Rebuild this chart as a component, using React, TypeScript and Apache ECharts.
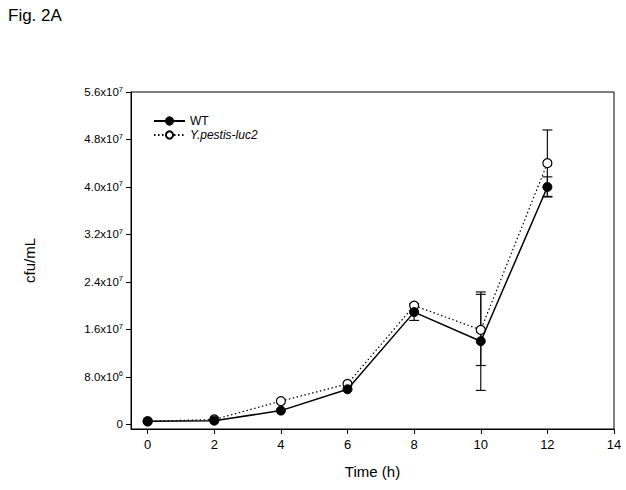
import React, { useEffect, useRef } from "react";
import * as echarts from "echarts";

const timesH = [0, 2, 4, 6, 8, 10, 12];
const wtValues = [5.0e5, 6.0e5, 2.3e6, 5.9e6, 1.89e7, 1.4e7, 4.0e7];
const wtErrors = [0, 0, 0, 0, 1.4e6, 8.3e6, 1.7e6];
const lucValues = [5.0e5, 8.0e5, 3.9e6, 6.8e6, 2.0e7, 1.59e7, 4.4e7];
const lucErrors = [0, 0, 0, 0, 0, 6.0e6, 5.6e6];
const xTicks = [0, 2, 4, 6, 8, 10, 12, 14];
const yTicks = [0, 8e6, 1.6e7, 2.4e7, 3.2e7, 4.0e7, 4.8e7, 5.6e7];

const FONT = "'Liberation Sans', Arial, Helvetica, sans-serif";

function fmtSci(v: number): string {
  if (v === 0) return "{m|0}";
  const e = Math.floor(Math.log10(v) + 1e-9);
  const m = v / Math.pow(10, e);
  return `{m|${m.toFixed(1)}x10}{e|${e}}`;
}

function errData(vals: number[], errs: number[]) {
  const out: number[][] = [];
  timesH.forEach((t, i) => {
    if (errs[i] > 0) out.push([t, vals[i] - errs[i], vals[i] + errs[i]]);
  });
  return out;
}

function errSeries(name: string, data: number[][], z: number) {
  return {
    type: "custom",
    name,
    z,
    silent: true,
    renderItem: (params: any, api: any) => {
      const x = api.value(0);
      const lo = api.coord([x, api.value(1)]);
      const hi = api.coord([x, api.value(2)]);
      const w = 5;
      const st = { stroke: "#111", lineWidth: 1.2 };
      return {
        type: "group",
        children: [
          { type: "line", shape: { x1: lo[0], y1: lo[1], x2: hi[0], y2: hi[1] }, style: st },
          { type: "line", shape: { x1: lo[0] - w, y1: lo[1], x2: lo[0] + w, y2: lo[1] }, style: st },
          { type: "line", shape: { x1: hi[0] - w, y1: hi[1], x2: hi[0] + w, y2: hi[1] }, style: st },
        ],
      };
    },
    data,
  };
}

export default function App() {
  const ref = useRef<HTMLDivElement>(null);
  useEffect(() => {
    const chart = echarts.init(ref.current!, null, { renderer: "svg" });
    chart.setOption({
      animation: false,
      backgroundColor: "#fff",
      textStyle: { fontFamily: FONT },
      title: {
        text: "Fig. 2A",
        left: 3,
        top: 2,
        textStyle: { fontFamily: FONT, fontSize: 17, fontWeight: "normal", color: "#000" },
      },
      grid: {
        left: 131,
        right: 12,
        top: 92,
        bottom: 61,
        show: true,
        borderColor: "#000",
        borderWidth: 1,
        backgroundColor: "transparent",
      },
      legend: {
        orient: "vertical",
        left: 148,
        top: 110,
        itemWidth: 31,
        itemHeight: 9,
        itemGap: 2,
        textStyle: { fontFamily: FONT, fontSize: 12, color: "#000" },
        data: [
          { name: "WT" },
          { name: "Y.pestis-luc2", textStyle: { fontStyle: "italic" } },
        ],
      },
      xAxis: {
        type: "value",
        min: -0.5,
        max: 14,
        name: "Time (h)",
        nameLocation: "middle",
        nameGap: 35,
        nameTextStyle: { fontFamily: FONT, fontSize: 15, color: "#000" },
        axisLine: { show: true, onZero: false, lineStyle: { color: "#000", width: 1 } },
        axisTick: { show: true, length: 5, customValues: xTicks, lineStyle: { color: "#000" } },
        axisLabel: { customValues: xTicks, margin: 9, fontFamily: FONT, fontSize: 13, color: "#000" },
        splitLine: { show: false },
      },
      yAxis: {
        type: "value",
        min: -8e5,
        max: 5.6e7,
        name: "cfu/mL",
        nameLocation: "middle",
        nameGap: 94,
        nameRotate: 90,
        nameTextStyle: { fontFamily: FONT, fontSize: 15, color: "#000" },
        axisLine: { show: true, onZero: false, lineStyle: { color: "#000", width: 1 } },
        axisTick: { show: true, length: 5, customValues: yTicks, lineStyle: { color: "#000" } },
        axisLabel: {
          customValues: yTicks,
          margin: 8,
          formatter: (v: number) => fmtSci(v),
          rich: {
            m: { fontFamily: FONT, fontSize: 11.5, color: "#000" },
            e: { fontFamily: FONT, fontSize: 7.5, color: "#000", padding: [0, 0, 6, 0] },
          },
        },
        splitLine: { show: false },
      },
      series: [
        errSeries("errLuc", errData(lucValues, lucErrors), 1),
        errSeries("errWT", errData(wtValues, wtErrors), 1),
        {
          type: "line",
          name: "Y.pestis-luc2",
          z: 3,
          data: timesH.map((t, i) => [t, lucValues[i]]),
          symbol: "circle",
          symbolSize: 9,
          showSymbol: true,
          lineStyle: { color: "#000", width: 1.2, type: [1.5, 2.5] },
          itemStyle: { color: "#fff", borderColor: "#000", borderWidth: 1.2 },
        },
        {
          type: "line",
          name: "WT",
          z: 4,
          data: timesH.map((t, i) => [t, wtValues[i]]),
          symbol: "circle",
          symbolSize: 9,
          showSymbol: true,
          lineStyle: { color: "#000", width: 1.5 },
          itemStyle: { color: "#000", borderColor: "#000", borderWidth: 1 },
        },
      ],
    });
    return () => chart.dispose();
  }, []);
  return (
    <div
      ref={ref}
      style={{ position: "fixed", left: 0, top: 0, width: 626, height: 490, background: "#fff" }}
    />
  );
}
